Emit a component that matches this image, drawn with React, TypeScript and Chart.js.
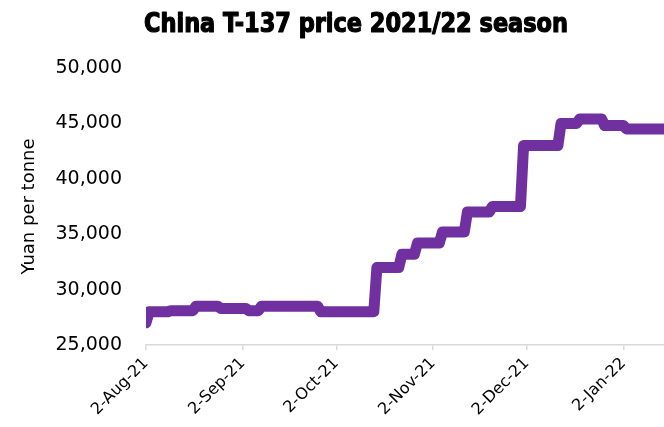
import React, { useEffect, useRef } from "react";
import { Chart, registerables } from "chart.js";

Chart.register(...registerables);

const TITLE = "China T-137 price 2021/22 season";
const Y_TITLE = "Yuan per tonne";

const START_DATE = "2021-08-02";
const END_DATE = "2022-01-15";

// Dates on which the price changed, and the new price from that date
const changeDates = [
  "2021-08-02", "2021-08-03", "2021-08-10", "2021-08-18", "2021-08-26",
  "2021-09-04", "2021-09-08", "2021-09-27", "2021-10-15", "2021-10-23",
  "2021-10-28", "2021-11-05", "2021-11-13", "2021-11-21", "2021-12-01",
  "2021-12-13", "2021-12-19", "2021-12-27", "2022-01-03",
];
const prices = [
  27000, 28000, 28100, 28500, 28300,
  28100, 28500, 28000, 32000, 33200,
  34200, 35200, 37000, 37500, 43000,
  45000, 45400, 44800, 44500,
];

const tickDates = ["2021-08-02", "2021-09-02", "2021-10-02", "2021-11-02", "2021-12-02", "2022-01-02"];
const tickLabels = ["2-Aug-21", "2-Sep-21", "2-Oct-21", "2-Nov-21", "2-Dec-21", "2-Jan-22"];

const Y_MIN = 25000;
const Y_MAX = 50000;
const Y_STEP = 5000;

const dayOf = (s: string) => {
  const [y, m, d] = s.split("-").map(Number);
  const [y0, m0, d0] = START_DATE.split("-").map(Number);
  return Math.round((Date.UTC(y, m - 1, d) - Date.UTC(y0, m0 - 1, d0)) / 86400000);
};

function buildPoints() {
  const pts: { x: number; y: number }[] = [];
  for (let i = 0; i < changeDates.length; i++) {
    const d = dayOf(changeDates[i]);
    const end = i + 1 < changeDates.length ? dayOf(changeDates[i + 1]) - 1 : dayOf(END_DATE);
    pts.push({ x: d, y: prices[i] });
    if (end > d) pts.push({ x: end, y: prices[i] });
  }
  return pts;
}

const titlePlugin = {
  id: "customTitle",
  afterDraw(chart: any) {
    const ctx = chart.ctx;
    ctx.save();
    ctx.font = "bold 27px 'DejaVu Sans Condensed', 'DejaVu Sans', sans-serif";
    ctx.fillStyle = "#000";
    ctx.strokeStyle = "#000";
    ctx.lineWidth = 1.2;
    ctx.lineJoin = "round";
    ctx.textAlign = "center";
    ctx.textBaseline = "alphabetic";
    ctx.fillText(TITLE, 356, 32, 424);
    ctx.strokeText(TITLE, 356, 32, 424);
    ctx.restore();
  },
};

export default function App() {
  const ref = useRef<HTMLCanvasElement>(null);
  useEffect(() => {
    if (!ref.current) return;
    const tickDays = tickDates.map(dayOf);
    const chart = new Chart(ref.current, {
      type: "line",
      data: {
        datasets: [
          {
            data: buildPoints(),
            borderColor: "#7030A0",
            backgroundColor: "#7030A0",
            borderWidth: 11,
            borderJoinStyle: "round",
            borderCapStyle: "round",
            pointRadius: 0,
            tension: 0,
            clip: { left: 0, right: 0, top: false, bottom: false } as any,
          },
        ],
      },
      options: {
        animation: false,
        responsive: false,
        layout: { padding: { top: 68, right: 0, left: 0, bottom: 0 } },
        plugins: {
          legend: { display: false },
          tooltip: { enabled: false },
          title: { display: false },
        },
        scales: {
          x: {
            type: "linear",
            min: 0,
            max: dayOf(END_DATE),
            afterBuildTicks: (scale: any) => {
              scale.ticks = tickDays.map((v) => ({ value: v }));
            },
            afterFit: (scale: any) => {
              scale.height = 82;
            },
            ticks: {
              autoSkip: false,
              maxRotation: 45,
              minRotation: 45,
              padding: 4,
              color: "#000",
              font: { family: "'DejaVu Sans', sans-serif", size: 16 },
              callback: (_v: any, i: number) => tickLabels[i],
            },
            grid: {
              drawOnChartArea: false,
              drawTicks: true,
              tickLength: 5,
              color: "#d9d9d9",
              lineWidth: 1.5,
            },
            border: { display: true, color: "#d9d9d9", width: 1.5 },
          },
          y: {
            min: Y_MIN,
            max: Y_MAX,
            afterFit: (scale: any) => {
              scale.width = 146;
            },
            ticks: {
              stepSize: Y_STEP,
              padding: 24,
              color: "#000",
              font: { family: "'DejaVu Sans', sans-serif", size: 19 },
              callback: (v: any) => Number(v).toLocaleString("en-US"),
            },
            grid: { display: false, drawTicks: false },
            border: { display: false },
            title: {
              display: true,
              text: Y_TITLE,
              color: "#000",
              font: { family: "'DejaVu Sans', sans-serif", size: 18 },
              padding: { top: 19, bottom: 0 },
            },
          },
        },
      },
      plugins: [titlePlugin],
    });
    return () => chart.destroy();
  }, []);
  return (
    <div style={{ position: "absolute", left: 0, top: 0, width: 664, height: 427, background: "#fff" }}>
      <canvas ref={ref} width={664} height={427} />
    </div>
  );
}
